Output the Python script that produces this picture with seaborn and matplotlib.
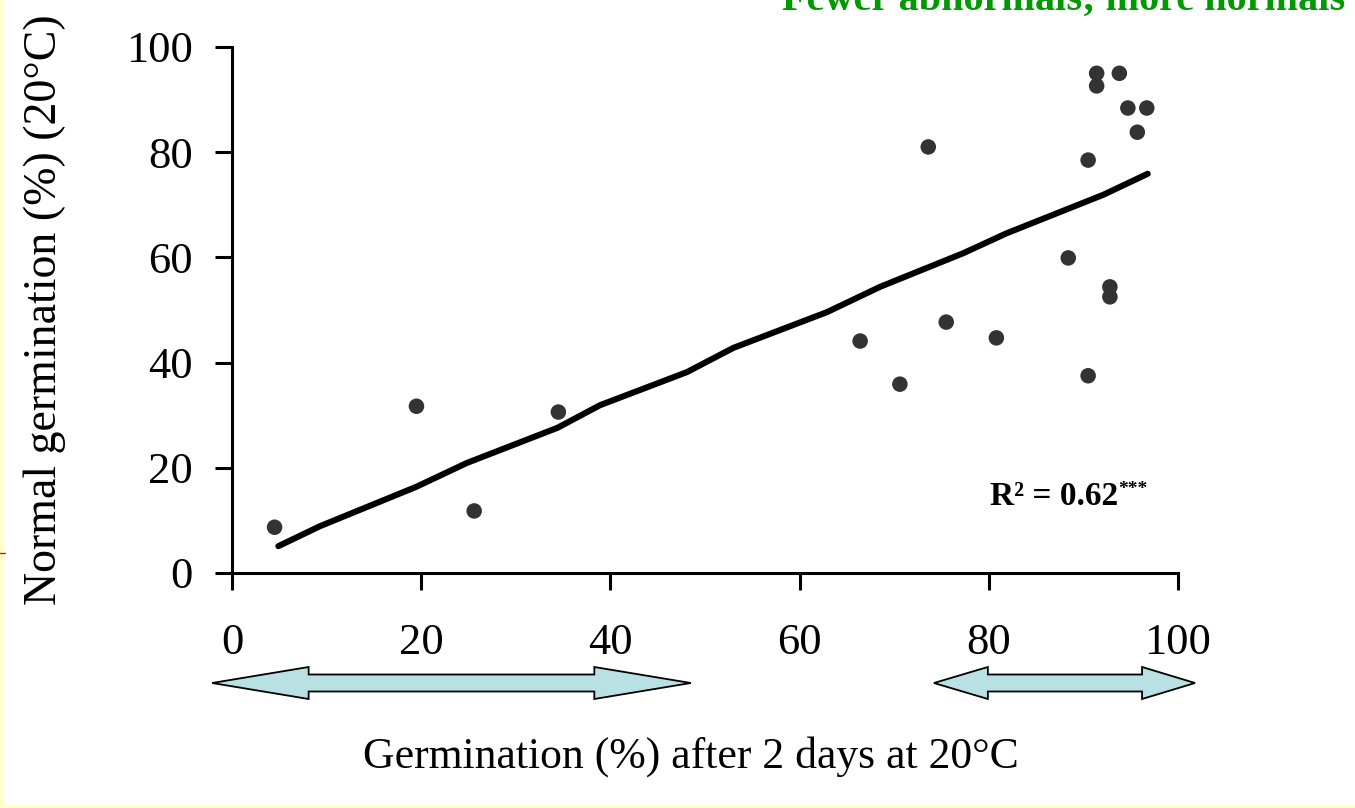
import numpy as np
import pandas as pd
import matplotlib
matplotlib.use("Agg")
import matplotlib.pyplot as plt
import matplotlib.transforms as mtransforms
from matplotlib.patches import Polygon
from matplotlib.lines import Line2D
import seaborn as sns

# germination after 2 days at 20C (%) vs normal germination (%)
germ_2d = [4.5, 19.5, 25.6, 34.5, 66.4, 70.6, 73.6, 75.5, 80.8, 88.4,
           92.8, 92.8, 90.5, 91.4, 93.8, 91.4, 94.7, 96.7, 95.7, 90.5]
normal_germ = [8.7, 31.7, 11.8, 30.6, 44.1, 35.9, 81.0, 47.7, 44.7, 59.9,
               54.4, 52.5, 37.5, 95.0, 95.0, 92.6, 88.4, 88.4, 83.8, 78.5]

# fitted line
fit_x = [4.9, 9.3, 19.5, 24.8, 34.4, 38.9, 48.1, 53.0, 62.9, 68.5, 77.3, 81.9, 92.1, 96.8]
fit_y = [5.1, 8.9, 16.4, 20.9, 27.6, 31.9, 38.2, 42.8, 49.6, 54.4, 60.8, 64.6, 71.9, 75.9]

ticks = [0, 20, 40, 60, 80, 100]
# ranges marked by the double arrows under the x axis (tip, base, base, tip)
arrow_ranges = [[-2.1, 8.1, 38.3, 48.5], [74.2, 79.9, 96.2, 101.8]]

sns.set_theme(style="white")
plt.rcParams["font.family"] = ["Liberation Serif", "DejaVu Serif"]

fig = plt.figure(figsize=(13.55, 8.08), dpi=100)
ax = fig.add_axes([232 / 1355, 1 - 573 / 808, 946 / 1355, 526 / 808])

pts = pd.DataFrame({"x": germ_2d, "y": normal_germ})
fit = pd.DataFrame({"x": fit_x, "y": fit_y})

sns.lineplot(data=fit, x="x", y="y", sort=False, estimator=None,
             color="black", linewidth=4.4, ax=ax, zorder=2)
sns.scatterplot(data=pts, x="x", y="y", color="#333333", s=125,
                edgecolor="none", ax=ax, zorder=3)

ax.set_xlim(0, 100)
ax.set_ylim(0, 100)
ax.set_xticks(ticks)
ax.set_yticks(ticks)
for s in ["top", "right"]:
    ax.spines[s].set_visible(False)
for s in ["left", "bottom"]:
    ax.spines[s].set_color("black")
    ax.spines[s].set_linewidth(2.2)
ax.tick_params(axis="both", direction="out", length=12, width=2.2,
               color="black", labelsize=32, labelcolor="black")
ax.tick_params(axis="x", pad=24, bottom=True)
ax.tick_params(axis="y", pad=16, left=True)

ax.set_xlabel("Germination (%) after 2 days at 20°C", fontsize=31.5, color="black")
ax.set_ylabel("Normal germination (%) (20°C)", fontsize=33, color="black")
ax.xaxis.set_label_coords(0.485, -0.31)
ax.yaxis.set_label_coords(-0.175, 0.5)

r2 = ax.text(80.1, 12.9, "R² = 0.62", fontsize=24, fontweight="bold",
             ha="left", va="baseline", color="black")
ax.annotate("***", xy=(1.0, 1.02), xycoords=r2, fontsize=14, fontweight="bold",
            ha="left", va="top", color="black")

# double arrows below the axis
trans = mtransforms.blended_transform_factory(ax.transData, fig.transFigure)
yc = 1 - 683 / 808
hh = 16 / 808
sh = 8.5 / 808
for t1, b1, b2, t2 in arrow_ranges:
    verts = [(t1, yc), (b1, yc + hh), (b1, yc + sh), (b2, yc + sh), (b2, yc + hh),
             (t2, yc), (b2, yc - hh), (b2, yc - sh), (b1, yc - sh), (b1, yc - hh)]
    ax.add_patch(Polygon(verts, closed=True, transform=trans, clip_on=False,
                         facecolor="#B9E1E4", edgecolor="black", linewidth=1.3))

# slide title, clipped at the top
fig.text(1345 / 1355, 1 - 10 / 808, "Fewer abnormals; more normals", fontsize=29,
         fontweight="bold", color="#009900", ha="right", va="baseline")

# slide frame and small red mark
yellow = "#FFFFC4"
fig.add_artist(Line2D([0.001, 0.001], [0, 1], transform=fig.transFigure, color=yellow, lw=2.5))
fig.add_artist(Line2D([0, 1], [0.003, 0.003], transform=fig.transFigure, color=yellow, lw=2.5))
fig.add_artist(Line2D([0, 0.004], [1 - 553 / 808, 1 - 553 / 808], transform=fig.transFigure,
                      color="red", lw=1))

fig.savefig("out.png", dpi=100)
